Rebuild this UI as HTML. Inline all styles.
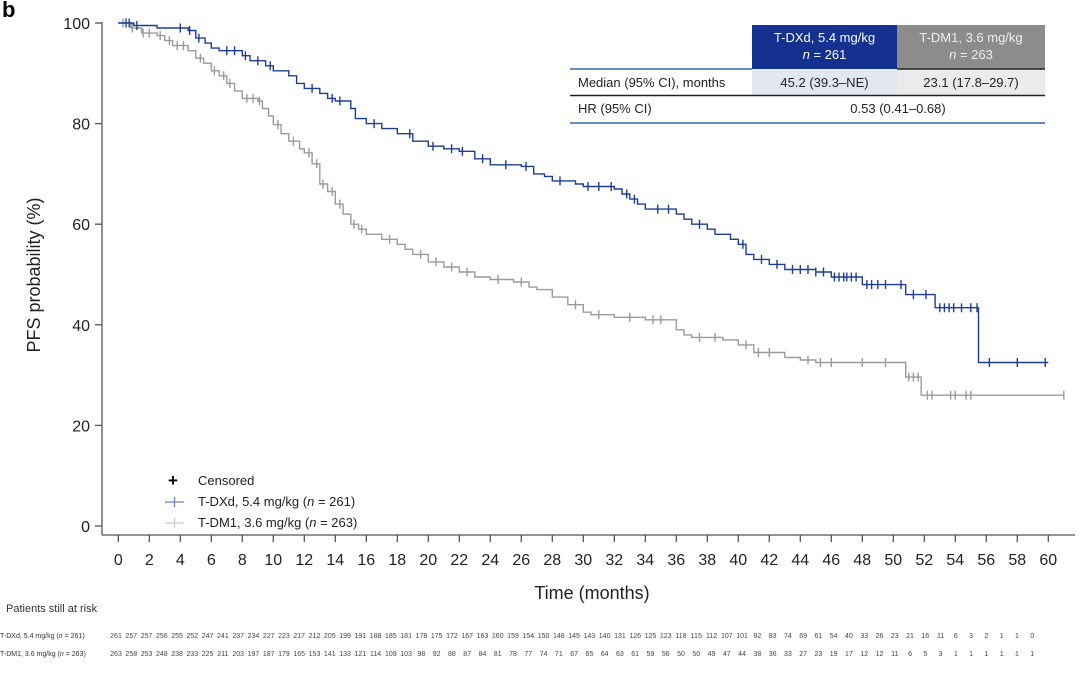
<!DOCTYPE html>
<html><head><meta charset="utf-8"><style>
body{margin:0;background:#fff;font-family:"Liberation Sans",sans-serif;}
svg text{font-family:"Liberation Sans",sans-serif;}
</style></head><body>
<svg id="s" width="1080" height="677" xmlns="http://www.w3.org/2000/svg">
<text x="2" y="17" font-size="22" font-weight="bold" fill="#000">b</text>
<g id="axes" stroke="#555" stroke-width="1.3" fill="none">
<line x1="102" y1="22" x2="102" y2="535"/>
<line x1="102" y1="535" x2="1075" y2="535"/>
</g>
<g id="ticks"></g>
<g id="curves"></g>
<rect x="752" y="25" width="145" height="44" fill="#15318f"/>
<rect x="897" y="25" width="148" height="44" fill="#8c8c8c"/>
<text x="824.5" y="42" font-size="13" fill="#fff" text-anchor="middle">T-DXd, 5.4 mg/kg</text>
<text x="824.5" y="59" font-size="13" fill="#fff" text-anchor="middle"><tspan font-style="italic">n</tspan> = 261</text>
<text x="971" y="42" font-size="13" fill="#eee" text-anchor="middle">T-DM1, 3.6 mg/kg</text>
<text x="971" y="59" font-size="13" fill="#eee" text-anchor="middle"><tspan font-style="italic">n</tspan> = 263</text>
<rect x="752" y="69" width="145" height="26" fill="#e3e7f2"/>
<rect x="897" y="69" width="148" height="26" fill="#ebebeb"/>
<line x1="570" y1="69" x2="752" y2="69" stroke="#3b5bb5" stroke-width="1.5"/>
<line x1="897" y1="69" x2="1045" y2="69" stroke="#222" stroke-width="1.5"/>
<line x1="570" y1="95.5" x2="1045" y2="95.5" stroke="#222" stroke-width="1.5"/>
<line x1="570" y1="123" x2="1045" y2="123" stroke="#3b5bb5" stroke-width="1.5"/>
<text x="578" y="87" font-size="13" fill="#222">Median (95% CI), months</text>
<text x="824.5" y="87" font-size="13" fill="#222" text-anchor="middle">45.2 (39.3–NE)</text>
<text x="971" y="87" font-size="13" fill="#222" text-anchor="middle">23.1 (17.8–29.7)</text>
<text x="578" y="113" font-size="13" fill="#222">HR (95% CI)</text>
<text x="898" y="113" font-size="13" fill="#222" text-anchor="middle">0.53 (0.41–0.68)</text>
<text x="168" y="486" font-size="17" font-weight="bold" fill="#000">+</text>
<text x="198" y="485" font-size="13" fill="#222">Censored</text>
<line x1="165" y1="502" x2="184" y2="502" stroke="#6d84c0" stroke-width="1.3"/><line x1="174.5" y1="497" x2="174.5" y2="507" stroke="#6d84c0" stroke-width="1.3"/>
<text x="198" y="506" font-size="13" fill="#222">T-DXd, 5.4 mg/kg (<tspan font-style="italic">n</tspan> = 261)</text>
<line x1="165" y1="523" x2="184" y2="523" stroke="#ccc" stroke-width="1.3"/><line x1="174.5" y1="518" x2="174.5" y2="528" stroke="#ccc" stroke-width="1.3"/>
<text x="198" y="527" font-size="13" fill="#222">T-DM1, 3.6 mg/kg (<tspan font-style="italic">n</tspan> = 263)</text>
<text x="40" y="275" font-size="18" fill="#222" text-anchor="middle" transform="rotate(-90 40 275)">PFS probability (%)</text>
<text x="592" y="599" font-size="18" fill="#222" text-anchor="middle">Time (months)</text>
<text x="6" y="612" font-size="11" fill="#333">Patients still at risk</text>
<text x="0" y="638" font-size="7" fill="#333">T-DXd, 5.4 mg/kg (<tspan font-style="italic">n</tspan> = 261)</text>
<text x="0" y="656" font-size="7" fill="#333">T-DM1, 3.6 mg/kg (<tspan font-style="italic">n</tspan> = 263)</text>
<g id="risk" font-size="7" fill="#444" text-anchor="middle"></g>
</svg>
<script>
var NS="http://www.w3.org/2000/svg";
function X(m){return 118.3+15.5*m;}
function Y(p){return 526-5.03*p;}
function el(tag,attrs,parent,txt){var e=document.createElementNS(NS,tag);for(var k in attrs)e.setAttribute(k,attrs[k]);if(txt!==undefined)e.textContent=txt;parent.appendChild(e);return e;}
var tk=document.getElementById('ticks');
for(var p=0;p<=100;p+=20){el('line',{x1:95,y1:Y(p),x2:102,y2:Y(p),stroke:'#555','stroke-width':1.3},tk);el('text',{x:90,y:Y(p)+6,'font-size':16,fill:'#222','text-anchor':'end'},tk,String(p));}
for(var m=0;m<=60;m+=2){el('line',{x1:X(m),y1:535,x2:X(m),y2:542,stroke:'#555','stroke-width':1.3},tk);el('text',{x:X(m),y:565,'font-size':16,fill:'#222','text-anchor':'middle'},tk,String(m));}
var blue=[[0,100],[1,99.5],[2.5,99],[4.5,98.5],[5,97],[5.6,96],[6,95],[6.5,94.5],[8,93.5],[8.5,92.5],[9.5,91.5],[10,90.5],[11,89.5],[11.5,88],[12,87],[13,86],[13.5,85],[14,84.5],[15,83],[15.3,81],[16,80],[17,79],[18,78],[19,76.5],[20,75.5],[21,75],[22,74.5],[23,73],[24,71.8],[26,71.5],[26.8,70],[27.5,69.5],[28,68.6],[29.5,68],[30,67.5],[32,67],[32.5,66],[33,65],[33.5,64],[34,63],[36,62],[36.5,61],[37,60],[38,59],[38.5,58],[39.5,57],[40,56],[40.5,54],[41,53],[42,52],[43,51],[45,50.5],[46,49.5],[48,48],[50.8,46],[52.7,43.4],[55.5,32.5]];
var gray=[[0,100],[0.8,99],[1.5,98],[2.5,97.5],[3,96.5],[3.5,95.5],[4.5,94.5],[5,93],[5.5,92],[6,90.5],[6.5,89.5],[7,88],[7.5,86.5],[8,85],[9,84.5],[9.3,83],[9.7,81.5],[10,79.8],[10.5,78],[11,76.5],[11.7,75],[12,74.2],[12.5,72],[13,68],[13.5,66.5],[14,64],[14.5,62],[15,60],[15.5,59],[16,58],[17,57],[18,56],[18.5,55],[19,54],[20,52.5],[21,51.5],[22,50.5],[23,49.5],[24,49],[25.5,48.5],[26.5,47.5],[27,47],[28,45.5],[29,44],[30,42.5],[30.5,42],[32,41.5],[34,41],[36,39],[36.5,38],[37,37.5],[39,37],[40,36],[41,34.5],[43,33.5],[44,33],[45,32.5],[50.8,29.6],[51.8,26]];
function lvl(pts,m){var v=pts[0][1];for(var i=0;i<pts.length;i++){if(pts[i][0]<=m)v=pts[i][1];}return v;}
function draw(pts,end,times,col){
  var d='M'+X(pts[0][0]).toFixed(1)+' '+Y(pts[0][1]).toFixed(1);
  for(var i=1;i<pts.length;i++){d+=' H'+X(pts[i][0]).toFixed(1)+' V'+Y(pts[i][1]).toFixed(1);}
  d+=' H'+X(end).toFixed(1);
  for(var j=0;j<times.length;j++){var t=times[j];var y=Y(lvl(pts,t));d+=' M'+X(t).toFixed(1)+' '+(y-4.5).toFixed(1)+' V'+(y+4.5).toFixed(1);}
  el('path',{d:d,fill:'none',stroke:col,'stroke-width':1.4},document.getElementById('curves'));
}
draw(gray,61,[0.3,0.9,1.6,2,2.7,3.3,3.8,4.2,5.3,6.2,6.8,7.2,8.3,8.7,9.1,10.3,11.3,12.3,12.8,13.2,13.8,14.3,15.2,15.7,17.5,19.5,20.5,21.5,22.5,24.5,26,29.5,31,33,34.5,35,37.5,38.5,40.5,41.3,42,44.5,45.3,46,48,49.5,51,51.3,51.6,52.2,52.5,53.7,54,54.7,55,61],'#9b9b9b');
draw(blue,60,[0.5,0.7,1.2,4,4.6,5.2,7,7.5,8.2,9,9.8,12.5,13.8,14.3,16.5,18.8,20.3,21.5,22.2,23.5,25,26.3,28.5,30.3,31,31.8,32.8,33.3,34.8,35.5,37.5,40.3,41.5,42.5,43.5,44,44.5,45,45.5,46.2,46.5,46.8,47,47.3,47.6,48.3,48.6,49,49.5,50.5,51.3,52.1,53,53.3,53.6,53.9,54.4,55,55.4,56.2,58,59.8],'#1f3d94');
var r1="261 257 257 256 255 252 247 241 237 234 227 223 217 212 205 199 191 188 185 181 178 175 172 167 163 160 159 154 150 148 145 143 140 131 126 125 123 118 115 112 107 101 92 83 74 69 61 54 40 33 26 23 21 16 11 6 3 2 1 1 0".split(' ');
var r2="263 258 253 248 238 233 225 211 203 197 187 179 165 153 141 133 121 114 109 103 98 92 88 87 84 81 78 77 74 71 67 65 64 63 61 59 56 50 50 49 47 44 38 36 33 27 23 19 17 12 12 11 6 5 3 1 1 1 1 1 1".split(' ');
var rg=document.getElementById('risk');
for(var i=0;i<61;i++){var x=116+i*15.27;el('text',{x:x,y:638},rg,r1[i]);el('text',{x:x,y:656},rg,r2[i]);}
</script>
</body></html>
